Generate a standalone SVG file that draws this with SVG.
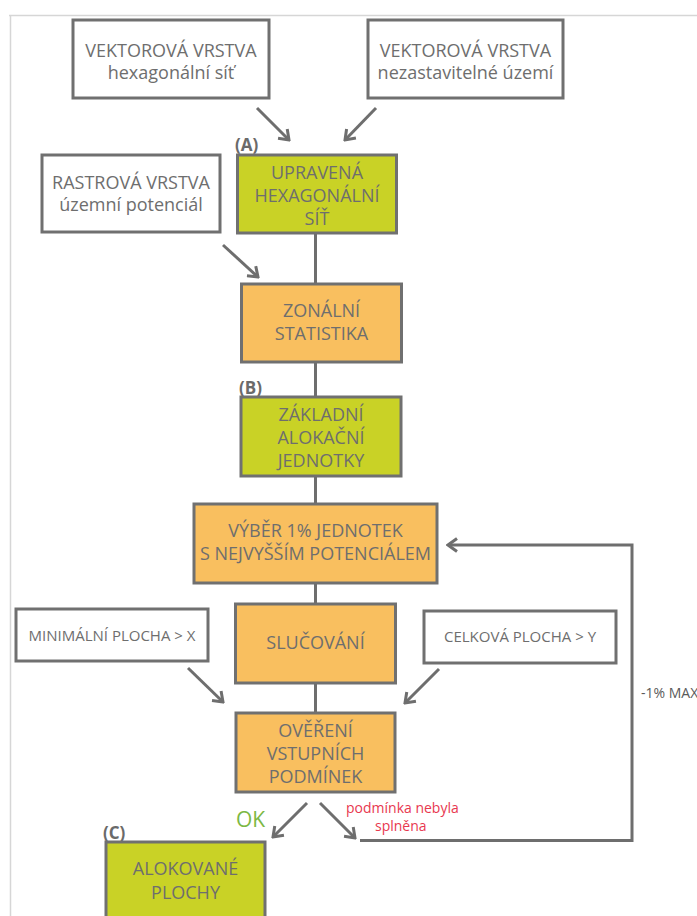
<svg xmlns="http://www.w3.org/2000/svg" width="697" height="916" viewBox="0 0 697 916">
<defs>
<style>
.bx{stroke:#707070;stroke-width:3}
.w{fill:#ffffff}
.g{fill:#c9d226}
.o{fill:#f9bf5f}
.t{font-family:"Open Sans","Liberation Sans",sans-serif;font-size:18px;fill:#6e6e6e;text-anchor:middle}
.s{font-family:"Open Sans","Liberation Sans",sans-serif;font-size:15px;fill:#6e6e6e;text-anchor:middle}
.lb{font-family:"Open Sans","Liberation Sans",sans-serif;font-size:17px;font-weight:bold;fill:#6a6a6a}
.c{stroke:#6e6e6e;stroke-width:3;fill:none}
</style>
<marker id="ah" viewBox="0 0 12 16" markerWidth="12" markerHeight="16" refX="10" refY="8" orient="auto" markerUnits="userSpaceOnUse">
<path d="M1,1.5 L10,8 L1,14.5" fill="none" stroke="#6e6e6e" stroke-width="3"/>
</marker>
</defs>
<rect width="697" height="916" fill="#ffffff"/>
<path d="M9,15.5 H697 M10.5,15 V916" stroke="#d6d6d6" stroke-width="1.5" fill="none"/>

<g id="connectors">
<line class="c" x1="257" y1="108" x2="289" y2="140" marker-end="url(#ah)"/>
<line class="c" x1="376" y1="108" x2="345" y2="140" marker-end="url(#ah)"/>
<line class="c" x1="223" y1="245" x2="258" y2="277" marker-end="url(#ah)"/>
<line class="c" x1="315.5" y1="233" x2="315.5" y2="284"/>
<line class="c" x1="315.5" y1="362" x2="315.5" y2="397"/>
<line class="c" x1="315.5" y1="476" x2="315.5" y2="504"/>
<line class="c" x1="315.5" y1="583" x2="315.5" y2="604"/>
<line class="c" x1="315.5" y1="683" x2="315.5" y2="712"/>
<line class="c" x1="188" y1="668" x2="223" y2="702" marker-end="url(#ah)"/>
<line class="c" x1="439" y1="669" x2="405" y2="703" marker-end="url(#ah)"/>
<line class="c" x1="307" y1="803" x2="273" y2="837" marker-end="url(#ah)"/>
<line class="c" x1="320" y1="803" x2="355" y2="838" marker-end="url(#ah)"/>
<polyline class="c" points="360,840.5 632,840.5 632,545 448,545" marker-end="url(#ah)"/>
<text x="346" y="813" font-family="'Open Sans','Liberation Sans',sans-serif" font-size="14" fill="#e8384f">podmínka nebyla</text>
<text x="375" y="831" font-family="'Open Sans','Liberation Sans',sans-serif" font-size="14" fill="#e8384f">splněna</text>
<text x="236" y="827" font-family="'Open Sans','Liberation Sans',sans-serif" font-size="21" fill="#7cb844">OK</text>
<text x="641" y="698" font-family="'Open Sans','Liberation Sans',sans-serif" font-size="14" fill="#5a5a5a">-1% MAX</text>
</g>

<g id="vektor-hex">
<rect class="bx w" x="73" y="20" width="196" height="78"/>
<text class="t" x="171" y="57">VEKTOROVÁ VRSTVA</text>
<text class="t" x="171" y="79">hexagonální síť</text>
</g>
<g id="vektor-nezast">
<rect class="bx w" x="368" y="20" width="195" height="78"/>
<text class="t" x="465.5" y="57">VEKTOROVÁ VRSTVA</text>
<text class="t" x="465.5" y="79">nezastavitelné území</text>
</g>
<g id="upravena">
<text class="lb" x="235" y="151">(A)</text>
<rect class="bx g" x="237.5" y="155" width="159" height="78"/>
<text class="t" x="317" y="179">UPRAVENÁ</text>
<text class="t" x="317" y="202">HEXAGONÁLNÍ</text>
<text class="t" x="317" y="225">SÍŤ</text>
</g>
<g id="rastr">
<rect class="bx w" x="42" y="155" width="178" height="77"/>
<text class="t" x="131" y="189">RASTROVÁ VRSTVA</text>
<text class="t" x="131" y="211">územní potenciál</text>
</g>
<g id="zonalni">
<rect class="bx o" x="241.5" y="284" width="160" height="78"/>
<text class="t" x="321.5" y="317">ZONÁLNÍ</text>
<text class="t" x="321.5" y="340">STATISTIKA</text>
</g>
<g id="zakladni">
<text class="lb" x="239" y="394">(B)</text>
<rect class="bx g" x="241" y="397" width="160" height="79"/>
<text class="t" x="321" y="421">ZÁKLADNÍ</text>
<text class="t" x="321" y="444">ALOKAČNÍ</text>
<text class="t" x="321" y="467">JEDNOTKY</text>
</g>
<g id="vyber">
<rect class="bx o" x="194" y="504" width="243" height="79"/>
<text class="t" x="315.5" y="537">VÝBĚR 1% JEDNOTEK</text>
<text class="t" x="315.5" y="560">S NEJVYŠŠÍM POTENCIÁLEM</text>
</g>
<g id="minimalni">
<rect class="bx w" x="16" y="609" width="192" height="52"/>
<text class="s" x="112" y="641">MINIMÁLNÍ PLOCHA &gt; X</text>
</g>
<g id="slucovani">
<rect class="bx o" x="235.5" y="604" width="160" height="79"/>
<text class="t" x="315.5" y="649">SLUČOVÁNÍ</text>
</g>
<g id="celkova">
<rect class="bx w" x="424" y="611" width="192" height="52"/>
<text class="s" x="520" y="642">CELKOVÁ PLOCHA &gt; Y</text>
</g>
<g id="overeni">
<rect class="bx o" x="236" y="713" width="159" height="79"/>
<text class="t" x="315.5" y="737">OVĚŘENÍ</text>
<text class="t" x="315.5" y="760">VSTUPNÍCH</text>
<text class="t" x="315.5" y="783">PODMÍNEK</text>
</g>
<g id="alokovane">
<text class="lb" x="103" y="839">(C)</text>
<rect class="bx g" x="106" y="842" width="159" height="90"/>
<text class="t" x="185.5" y="875">ALOKOVANÉ</text>
<text class="t" x="185.5" y="899">PLOCHY</text>
</g>
</svg>
